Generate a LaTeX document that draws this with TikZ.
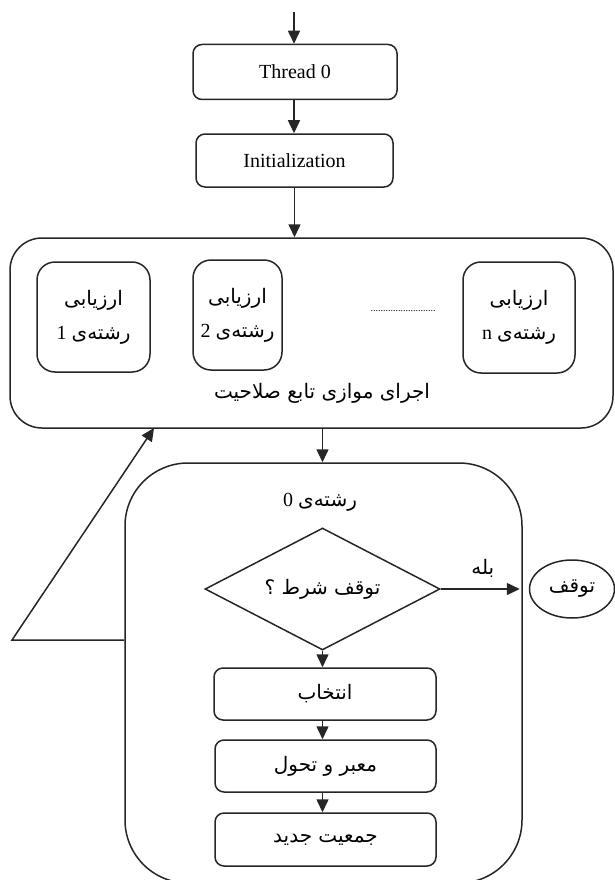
\documentclass[tikz,border=0pt]{standalone}
\usepackage{fontspec}
\setmainfont{Liberation Serif}
\newfontfamily\arabicfont[Script=Arabic]{DejaVu Sans}
\TeXXeTstate=1
\usetikzlibrary{shapes.geometric,arrows.meta}
\newcommand\fa[1]{{\arabicfont\beginR #1\endR}}
\newcommand\thr[1]{{\beginR{\arabicfont رشته‌ی} #1\endR}}

\begin{document}
\begin{tikzpicture}[x=1pt,y=-1pt,line width=1.5pt,>={Triangle[length=13pt,width=12pt]}]
        \tikzstyle{box}=[draw=black!85,rounded corners=9pt,font=\fontsize{20}{24}\selectfont]
        \tikzstyle{evalbox}=[draw=black!85,rounded corners=18pt,align=center,minimum height=110pt,font=\fontsize{20}{24}\selectfont]
        \tikzstyle{decision}=[diamond,draw=black!85,aspect=2.2,inner sep=0pt,minimum width=235pt,minimum height=122pt,font=\fontsize{20}{24}\selectfont]
        \tikzstyle{edge}=[draw=black!85,->]
        \clip (0,0) rectangle (615,880);

        % top part
        \coordinate (start) at (294,12);
        \node [box,minimum width=204pt,minimum height=55pt] (thread) at (295,72) {Thread 0};
        \node [box,minimum width=197pt,minimum height=53pt] (init) at (294.5,160.5) {Initialization};

        % parallel fitness evaluation
        \node [draw=black!85,rounded corners=32pt,minimum width=603pt,minimum height=190pt] (outer) at (311.5,333) {};
        \node [evalbox,minimum width=113pt] (evalA) at (93.5,317) {\fa{ارزیابی}\\[10pt]\thr{1}};
        \node [evalbox,minimum width=89pt] (evalB) at (237.5,315) {\fa{ارزیابی}\\[10pt]\thr{2}};
        \node [evalbox,minimum width=112pt,minimum height=111pt] (evalN) at (519,317.5) {\fa{ارزیابی}\\[10pt]\thr{n}};
        \node [font=\fontsize{10}{12}\selectfont] (dots) at (403,311) {..........................};
        \node [font=\fontsize{20}{24}\selectfont] (parlabel) at (322,393) {\fa{اجرای موازی تابع صلاحیت}};

        % thread 0 loop
        \node [draw=black!85,rounded corners=63pt,minimum width=397pt,minimum height=420pt] (lower) at (323.5,673) {};
        \node [font=\fontsize{20}{24}\selectfont] (lowlabel) at (320,502) {\thr{0}};
        \node [decision] (cond) at (322.5,589) {\fa{توقف شرط ؟}};
        \node [ellipse,draw=black!85,minimum width=85pt,minimum height=58pt,inner sep=0pt,font=\fontsize{20}{24}\selectfont] (stop) at (572,589) {\fa{توقف}};
        \node [box,minimum width=222pt,minimum height=52pt] (select) at (325,694) {\fa{انتخاب}};
        \node [box,minimum width=221pt,minimum height=52pt] (cross) at (325.5,766) {\fa{معبر و تحول}};
        \node [box,minimum width=221pt,minimum height=53pt] (newpop) at (325.5,839.5) {\fa{جمعیت جدید}};

        \coordinate (fb) at (12,640);
        \coordinate (back) at (154,428);

        \path[edge] (start) -- (start |- thread.north);
        \path[edge] (thread.south -| start) -- (start |- init.north);
        \path[edge] (init.south) -- (init.south |- outer.north);
        \path[edge] (cond |- outer.south) -- (cond |- lower.north);
        \path[edge,shorten >=9pt] (cond.east) -- node[above=7pt,xshift=-2pt,font=\fontsize{20}{24}\selectfont] {\fa{بله}} (stop.west);
        \path[edge] (cond.south) -- (cond.south |- select.north);
        \path[edge] (cond.south |- select.south) -- (cond.south |- cross.north);
        \path[edge] (cond.south |- cross.south) -- (cond.south |- newpop.north);
        \path[edge] (lower.west |- fb) -- (fb) -- (back);
\end{tikzpicture}
\end{document}
